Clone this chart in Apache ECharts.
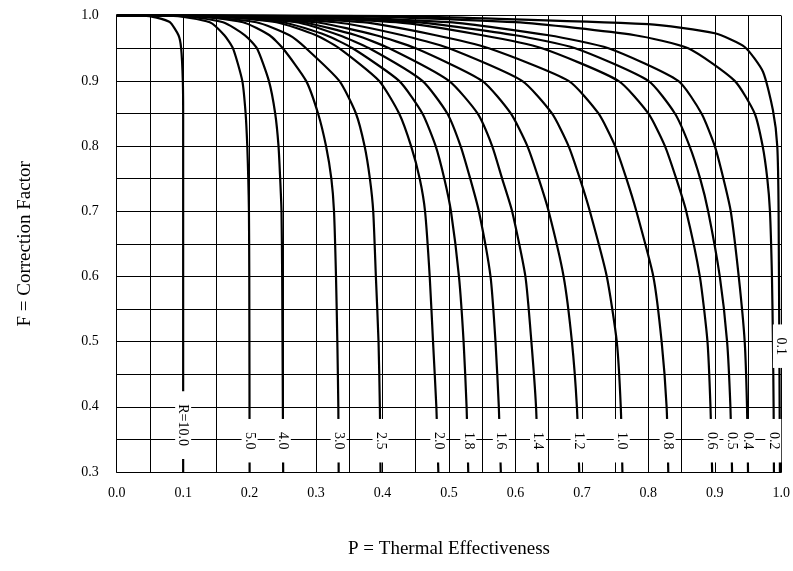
<!DOCTYPE html>
<html>
<head>
<meta charset="utf-8">
<script src="https://cdn.jsdelivr.net/npm/echarts@6/dist/echarts.min.js"></script>
<style>
  html, body { margin: 0; padding: 0; background: #fff; }
  #main { width: 793px; height: 571px; }
</style>
</head>
<body>
<div id="main"></div>
<script>
// curve values: [P, F]
var curveR10 = [[0.0,1.0],[0.04,1.0],[0.06,0.997],[0.08,0.99],[0.093,0.97],[0.097,0.95],[0.0995,0.9],[0.1,0.85],[0.1,0.3]];
var curveR5 = [[0.0,1.0],[0.08,1.0],[0.14,0.99],[0.162,0.97],[0.175,0.95],[0.189,0.9],[0.194,0.85],[0.1965,0.8],[0.198,0.75],[0.199,0.7],[0.1995,0.6],[0.2,0.3]];
var curveR4 = [[0.0,1.0],[0.09,1.0],[0.16,0.99],[0.193,0.97],[0.211,0.95],[0.229,0.9],[0.2385,0.85],[0.2435,0.8],[0.246,0.75],[0.248,0.7],[0.249,0.6],[0.2505,0.3]];
var curveR3 = [[0.0,1.0],[0.1,1.0],[0.19,0.99],[0.23,0.97],[0.25,0.95],[0.285,0.9],[0.303,0.85],[0.315,0.8],[0.323,0.75],[0.327,0.7],[0.33,0.6],[0.332,0.5],[0.3335,0.4],[0.334,0.3]];
var curveR25 = [[0.0,1.0],[0.1,1.0],[0.21,0.99],[0.26,0.97],[0.285,0.95],[0.335,0.9],[0.36,0.85],[0.373,0.8],[0.381,0.75],[0.386,0.7],[0.39,0.6],[0.394,0.5],[0.396,0.4],[0.397,0.3]];
var curveR20 = [[0.0,1.0],[0.12,1.0],[0.24,0.99],[0.3,0.97],[0.335,0.95],[0.395,0.9],[0.425,0.85],[0.443,0.8],[0.456,0.75],[0.464,0.7],[0.471,0.6],[0.476,0.5],[0.481,0.4],[0.484,0.3]];
var curveR18 = [[0.0,1.0],[0.12,1.0],[0.25,0.99],[0.315,0.97],[0.355,0.95],[0.425,0.9],[0.46,0.85],[0.48,0.8],[0.493,0.75],[0.503,0.7],[0.515,0.6],[0.522,0.5],[0.5265,0.4],[0.529,0.3]];
var curveR16 = [[0.0,1.0],[0.13,1.0],[0.27,0.99],[0.335,0.97],[0.38,0.95],[0.46,0.9],[0.4975,0.85],[0.5175,0.8],[0.532,0.75],[0.545,0.7],[0.5625,0.6],[0.57,0.5],[0.575,0.4],[0.578,0.3]];
var curveR14 = [[0.0,1.0],[0.14,1.0],[0.28,0.99],[0.36,0.97],[0.41,0.95],[0.5,0.9],[0.543,0.85],[0.565,0.8],[0.58,0.75],[0.595,0.7],[0.615,0.6],[0.624,0.5],[0.631,0.4],[0.634,0.3]];
var curveR12 = [[0.0,1.0],[0.15,1.0],[0.3,0.99],[0.39,0.97],[0.45,0.95],[0.55,0.9],[0.593,0.85],[0.618,0.8],[0.635,0.75],[0.65,0.7],[0.6725,0.6],[0.685,0.5],[0.6925,0.4],[0.696,0.3]];
var curveR10b = [[0.0,1.0],[0.16,1.0],[0.33,0.99],[0.43,0.97],[0.5,0.95],[0.61,0.9],[0.655,0.85],[0.68,0.8],[0.697,0.75],[0.712,0.7],[0.7375,0.6],[0.7525,0.5],[0.7585,0.4],[0.761,0.3]];
var curveR08 = [[0.0,1.0],[0.18,1.0],[0.37,0.99],[0.48,0.97],[0.56,0.95],[0.68,0.9],[0.725,0.85],[0.75,0.8],[0.767,0.75],[0.782,0.7],[0.8075,0.6],[0.82,0.5],[0.8275,0.4],[0.83,0.3]];
var curveR06 = [[0.0,1.0],[0.2,1.0],[0.42,0.99],[0.55,0.97],[0.64,0.95],[0.755,0.9],[0.8,0.85],[0.825,0.8],[0.842,0.75],[0.857,0.7],[0.8775,0.6],[0.889,0.5],[0.8935,0.4],[0.896,0.3]];
var curveR05 = [[0.0,1.0],[0.22,1.0],[0.45,0.99],[0.6,0.97],[0.69,0.95],[0.8,0.9],[0.84,0.85],[0.862,0.8],[0.878,0.75],[0.89,0.7],[0.9075,0.6],[0.9185,0.5],[0.9235,0.4],[0.926,0.3]];
var curveR04 = [[0.0,1.0],[0.24,1.0],[0.5,0.99],[0.65,0.97],[0.74,0.95],[0.845,0.9],[0.88,0.85],[0.9,0.8],[0.913,0.75],[0.924,0.7],[0.936,0.6],[0.945,0.5],[0.9485,0.4],[0.95,0.3]];
var curveR02 = [[0.0,1.0],[0.3,1.0],[0.6,0.99],[0.78,0.97],[0.86,0.95],[0.93,0.9],[0.96,0.85],[0.972,0.8],[0.979,0.75],[0.983,0.7],[0.986,0.6],[0.9875,0.5],[0.9885,0.4],[0.989,0.3]];
var curveR01 = [[0.0,1.0],[0.35,1.0],[0.8,0.987],[0.9,0.973],[0.945,0.952],[0.9725,0.914],[0.9875,0.855],[0.994,0.8],[0.996,0.7],[0.998,0.3]];

var curves = [curveR10, curveR5, curveR4, curveR3, curveR25, curveR20, curveR18, curveR16, curveR14,
              curveR12, curveR10b, curveR08, curveR06, curveR05, curveR04, curveR02, curveR01];

// curve labels and where they sit
var labelText = ['R=10.0','5.0','4.0','3.0','2.5','2.0','1.8','1.6','1.4','1.2','1.0','0.8','0.6','0.5','0.4','0.2','0.1'];
var labelP = [0.1, 0.2, 0.25, 0.334, 0.397, 0.484, 0.529, 0.578, 0.634, 0.695, 0.76, 0.829, 0.895, 0.925, 0.949, 0.988, 0.9995];
var labelF = [0.372, 0.348, 0.348, 0.348, 0.348, 0.348, 0.348, 0.348, 0.348, 0.348, 0.348, 0.348, 0.348, 0.348, 0.348, 0.348, 0.493];

var font = 'Liberation Serif';

var series = [];
for (var i = 0; i < curves.length; i++) {
	series.push({
		type: 'line',
		data: curves[i],
		showSymbol: false,
		silent: true,
		smooth: 0.2,
		lineStyle: { color: '#000', width: 2.2 },
		z: 3
	});
}

var labelData = [];
for (var j = 0; j < labelText.length; j++) {
	labelData.push([labelP[j], labelF[j], labelText[j]]);
}

series.push({
	type: 'scatter',
	data: labelData,
	symbolSize: 1,
	itemStyle: { color: '#fff', opacity: 1 },
	silent: true,
	z: 10,
	label: {
		show: true,
		position: 'inside',
		rotate: -90,
		opacity: 1,
		formatter: function (p) { return p.value[2]; },
		fontFamily: font,
		fontSize: 14,
		color: '#000',
		textBorderWidth: 0,
		backgroundColor: '#fff',
		padding: [1, 13, 1, 13]
	}
});

var myChart = echarts.init(document.getElementById('main'));
var option = {
	animation: false,
	backgroundColor: '#fff',
	grid: { left: 116.7, right: 10.7, top: 15.7, bottom: 99 },
	xAxis: {
		type: 'value',
		min: 0, max: 1, interval: 0.05,
		name: 'P = Thermal Effectiveness',
		nameLocation: 'middle',
		nameGap: 68,
		nameTextStyle: { fontFamily: font, fontSize: 19, color: '#000' },
		axisLine: { lineStyle: { color: '#000', width: 1 } },
		axisTick: { show: false },
		splitLine: { lineStyle: { color: '#000', width: 1 } },
		axisLabel: {
			fontFamily: font, fontSize: 14, color: '#000', margin: 14,
			formatter: function (v) {
				var k = Math.round(v * 100);
				return k % 10 === 0 ? (k / 100).toFixed(1) : '';
			}
		}
	},
	yAxis: {
		type: 'value',
		min: 0.3, max: 1.0, interval: 0.05,
		name: 'F = Correction Factor',
		nameLocation: 'middle',
		nameGap: 82,
		nameTextStyle: { fontFamily: font, fontSize: 19, color: '#000' },
		axisLine: { show: true, lineStyle: { color: '#000', width: 1 } },
		axisTick: { show: false },
		splitLine: { lineStyle: { color: '#000', width: 1 } },
		axisLabel: {
			fontFamily: font, fontSize: 14, color: '#000', margin: 18,
			formatter: function (v) {
				var k = Math.round(v * 100);
				return k % 10 === 0 ? (k / 100).toFixed(1) : '';
			}
		}
	},
	series: series
};
myChart.setOption(option);
</script>
</body>
</html>
